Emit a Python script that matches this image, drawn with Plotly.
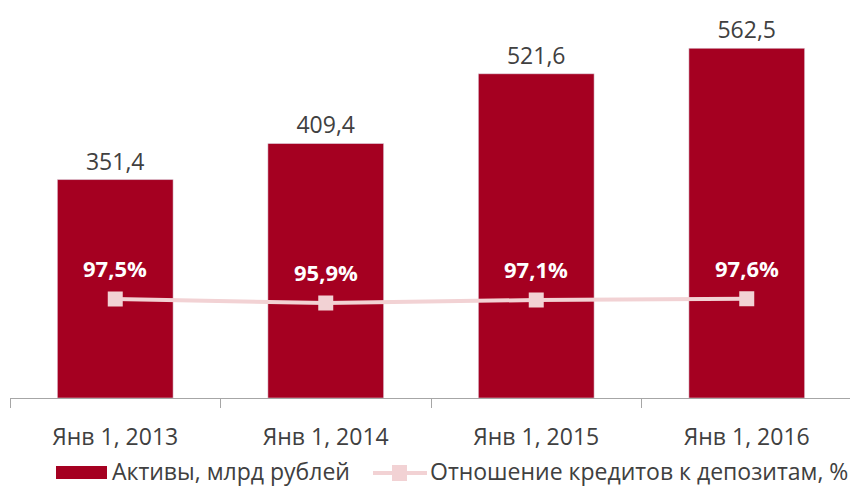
import plotly.graph_objects as go

# data
categories = ["Янв 1, 2013", "Янв 1, 2014", "Янв 1, 2015", "Янв 1, 2016"]
assets = [351.4, 409.4, 521.6, 562.5]
loan_to_deposit = [97.5, 95.9, 97.1, 97.6]
names = ["Активы, млрд рублей", "Отношение кредитов к депозитам, %"]

bar_color = "#a50021"
line_color = "#f2d2d4"
text_color = "#404040"
font_family = "Open Sans"

W, H = 858, 486
OFF = 8  # page body margin offsets the figure in the browser
# plot area in screen pixels: x 10..852, y 25..398
L, R, T, B = 10 - OFF, W - (852 - OFF), 25 - OFF, H - (398 - OFF)
pw, ph = W - L - R, H - T - B


def px(x):
    return (x - OFF - L) / pw


def py(y):
    return (H - B - (y - OFF)) / ph


fig = go.Figure()

fig.add_trace(go.Bar(
    x=categories, y=assets, name=names[0],
    marker_color=bar_color,
    texttemplate="%{y:.1f}", textposition="outside",
    textfont=dict(size=23, color=text_color),
    cliponaxis=False,
))

fig.add_trace(go.Scatter(
    x=categories, y=loan_to_deposit, name=names[1],
    yaxis="y2", mode="lines+markers",
    line=dict(color=line_color, width=4),
    marker=dict(symbol="square", size=15, color=line_color),
))

# percent labels above the markers
for c, v in zip(categories, loan_to_deposit):
    fig.add_annotation(
        x=c, y=v, yref="y2", text=f"<b>{v:.1f}%</b>".replace(".", ","),
        showarrow=False, yshift=31,
        font=dict(size=22, color="white", family=font_family),
    )

# legend drawn by hand (wide swatch like the original)
fig.add_shape(type="rect", xref="paper", yref="paper",
              x0=px(56), x1=px(107), y0=py(479), y1=py(466),
              fillcolor=bar_color, line_width=0)
fig.add_annotation(xref="paper", yref="paper", x=px(111), y=py(470.5),
                   text=names[0], showarrow=False, xanchor="left", yanchor="middle",
                   borderpad=0, font=dict(size=23, color=text_color))
fig.add_shape(type="line", xref="paper", yref="paper",
              x0=px(373), x1=px(427), y0=py(473), y1=py(473),
              line=dict(color=line_color, width=4))
fig.add_shape(type="rect", xref="paper", yref="paper",
              x0=px(392), x1=px(407), y0=py(481), y1=py(465),
              fillcolor=line_color, line_width=0)
fig.add_annotation(xref="paper", yref="paper", x=px(429), y=py(470.5),
                   text=names[1], showarrow=False, xanchor="left", yanchor="middle",
                   borderpad=0, font=dict(size=23, color=text_color))

fig.update_layout(
    width=W, height=H,
    margin=dict(l=L, r=R, t=T, b=B),
    paper_bgcolor="white", plot_bgcolor="white",
    separators=", ",
    font=dict(family=font_family, size=23, color=text_color),
    bargap=0.45,
    showlegend=False,
    xaxis=dict(range=[-0.5, 3.5], showline=True, linecolor="#a6a6a6", linewidth=1,
               ticks="outside", tickson="boundaries", ticklen=9, tickcolor="#a6a6a6",
               ticklabelstandoff=18, automargin=False,
               tickfont=dict(size=23, color=text_color)),
    yaxis=dict(range=[0, 600], visible=False, showgrid=False),
    yaxis2=dict(range=[57.9, 207.1], overlaying="y", side="right", visible=False, showgrid=False),
)

fig.write_html("out.html")
